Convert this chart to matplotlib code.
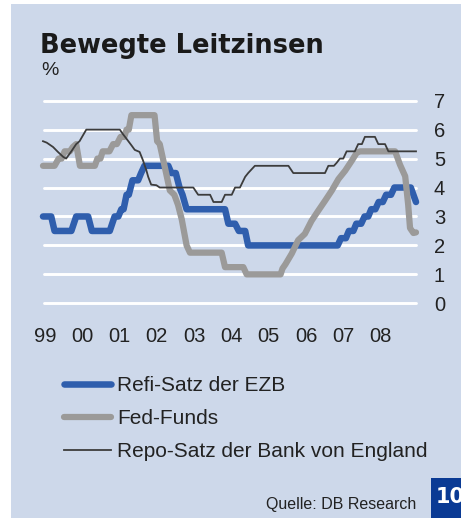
import numpy as np
import matplotlib
matplotlib.use("Agg")
import matplotlib.pyplot as plt
from matplotlib.patches import Rectangle

plt.rcParams['font.family'] = ['Liberation Sans', 'DejaVu Sans']

## data (x in decimal years)
ezb_t = [1999.00, 1999.22, 1999.31, 1999.76, 1999.89, 2000.21, 2000.31, 2000.79, 2000.92,
         2001.02, 2001.10, 2001.16, 2001.24, 2001.30, 2001.40, 2001.55, 2001.63, 2001.72,
         2002.36, 2002.44, 2002.56, 2002.66, 2002.74, 2002.85, 2003.88, 2003.97, 2004.15,
         2004.25, 2004.42, 2004.50, 2006.90, 2006.99, 2007.12, 2007.20, 2007.32, 2007.40,
         2007.53, 2007.62, 2007.72, 2007.80, 2007.91, 2008.00, 2008.11, 2008.20, 2008.33,
         2008.42, 2008.86, 2008.93, 2009.00]
ezb_v = [3.0, 3.0, 2.5, 2.5, 3.0, 3.0, 2.5, 2.5, 3.0,
         3.0, 3.25, 3.25, 3.75, 3.75, 4.25, 4.25, 4.5, 4.75,
         4.75, 4.5, 4.5, 4.0, 3.75, 3.25, 3.25, 2.75, 2.75,
         2.5, 2.5, 2.0, 2.0, 2.25, 2.25, 2.5, 2.5, 2.75,
         2.75, 3.0, 3.0, 3.25, 3.25, 3.5, 3.5, 3.75, 3.75,
         4.0, 4.0, 3.75, 3.5]

fed_t = [1999.00, 1999.31, 1999.42, 1999.50, 1999.58, 1999.72, 1999.80, 1999.89, 1999.99,
         2000.39, 2000.46, 2000.54, 2000.60, 2000.78, 2000.88, 2000.98, 2001.08, 2001.18,
         2001.24, 2001.30, 2001.37, 2001.99, 2002.06, 2002.13, 2002.30, 2002.40, 2002.52,
         2002.62, 2002.72, 2002.85, 2002.94, 2003.79, 2003.88, 2004.37, 2004.46, 2005.37,
         2005.42, 2005.50, 2005.67, 2005.84, 2006.02, 2006.20, 2006.38, 2006.56, 2006.74,
         2006.92, 2007.10, 2007.28, 2007.41, 2007.50, 2008.44, 2008.57, 2008.71, 2008.79,
         2008.84, 2008.93, 2009.00]
fed_v = [4.75, 4.75, 5.0, 5.0, 5.25, 5.25, 5.4, 5.5, 4.75,
         4.75, 5.0, 5.0, 5.25, 5.25, 5.5, 5.5, 5.75, 5.75,
         6.0, 6.0, 6.5, 6.5, 5.6, 5.5, 4.5, 3.9, 3.75,
         3.4, 2.9, 2.0, 1.75, 1.75, 1.25, 1.25, 1.0, 1.0,
         1.2, 1.35, 1.72, 2.18, 2.4, 2.85, 3.2, 3.54, 3.89,
         4.29, 4.58, 4.93, 5.2, 5.25, 5.25, 4.79, 4.39, 3.41,
         2.6, 2.43, 2.45]

boe_t = [1999.00, 1999.10, 1999.27, 1999.40, 1999.54, 1999.62, 1999.76, 1999.89, 1999.98,
         2000.07, 2000.16, 2001.06, 2001.14, 2001.23, 2001.37, 2001.46, 2001.59, 2001.68,
         2001.77, 2001.82, 2001.90, 2002.04, 2002.13, 2003.03, 2003.16, 2003.48, 2003.57,
         2003.79, 2003.88, 2004.06, 2004.15, 2004.28, 2004.42, 2004.50, 2004.68, 2005.58,
         2005.71, 2006.56, 2006.65, 2006.80, 2006.87, 2006.96, 2007.05, 2007.14, 2007.36,
         2007.45, 2007.55, 2007.63, 2007.90, 2007.99, 2008.17, 2008.26, 2009.00]
boe_v = [5.6, 5.55, 5.4, 5.23, 5.06, 5.0, 5.25, 5.5, 5.6,
         5.8, 6.0, 6.0, 5.85, 5.7, 5.46, 5.3, 5.23, 4.94,
         4.6, 4.37, 4.1, 4.08, 4.0, 4.0, 3.75, 3.75, 3.5,
         3.5, 3.75, 3.75, 4.0, 4.0, 4.37, 4.5, 4.75, 4.75,
         4.5, 4.5, 4.75, 4.75, 4.85, 5.0, 5.0, 5.25, 5.25,
         5.5, 5.5, 5.75, 5.75, 5.5, 5.5, 5.25, 5.25]

year_labels = ["99", "00", "01", "02", "03", "04", "05", "06", "07", "08"]
y_ticks = [0, 1, 2, 3, 4, 5, 6, 7]
series_names = ["Refi-Satz der EZB", "Fed-Funds", "Repo-Satz der Bank von England"]

## colours
panel_col = "#CDD8EA"
blue = "#2F5EAD"
grey = "#9B9A99"
dark = "#3C3C3C"

W, H = 461, 518
fig = plt.figure(figsize=(W / 100, H / 100), dpi=100)
fig.patch.set_facecolor("white")
fig.add_artist(Rectangle((11 / W, 0), 450 / W, 514 / H, transform=fig.transFigure,
                         facecolor=panel_col, edgecolor="none", zorder=0))

ax = fig.add_axes([40 / W, 1 - 312 / H, 380 / W, 220 / H])
ax.set_facecolor("none")
ax.set_xlim(1999 + (40 - 43) / 37.3, 1999 + (420 - 43) / 37.3)
ax.set_ylim(-0.3, 7.3)

gl = ax.hlines(y_ticks, 1999.02, 2009.0, colors="white", linewidth=2.1, zorder=1)
gl.set_capstyle("round")

l1, = ax.plot(ezb_t, ezb_v, color=blue, lw=4.7, solid_joinstyle="round",
              solid_capstyle="round", zorder=3, clip_on=False)
l2, = ax.plot(fed_t, fed_v, color=grey, lw=4.5, solid_joinstyle="round",
              solid_capstyle="round", zorder=4, clip_on=False)
l3, = ax.plot(boe_t, boe_v, color=dark, lw=1.3, zorder=5, clip_on=False)

for s in ax.spines.values():
    s.set_visible(False)
ax.yaxis.tick_right()
ax.set_yticks(y_ticks)
ax.set_yticklabels([str(v) for v in y_ticks])
ax.set_xticks([1999.05 + i for i in range(len(year_labels))])
ax.set_xticklabels(year_labels)
ax.tick_params(axis="y", length=0, pad=10, labelsize=14.5, labelcolor="#222222")
ax.tick_params(axis="x", length=0, pad=10.5, labelsize=14.5, labelcolor="#222222")

leg = ax.legend([l1, l2, l3], series_names, loc="upper left",
                bbox_to_anchor=(63.5 / W, 1 - 376 / H), bbox_transform=fig.transFigure,
                frameon=False, fontsize=15, handlelength=2.26, handletextpad=0.3,
                labelspacing=0.67, borderpad=0, borderaxespad=0)
for t in leg.get_texts():
    t.set_color("#222222")

fig.text(40 / W, 1 - 52.7 / H, "Bewegte Leitzinsen", family="DejaVu Sans",
         fontweight="bold", fontsize=18.5, color="#1a1a1a", va="baseline")
fig.text(41 / W, 1 - 75 / H, "%", fontsize=14, color="#222222", va="baseline")
fig.text(416 / W, 1 - 504 / H, "Quelle: DB Research", fontsize=11.5,
         color="#222222", ha="right", va="center")

fig.add_artist(Rectangle((431 / W, 0), 30 / W, 40 / H, transform=fig.transFigure,
                         facecolor="#0A3A94", edgecolor="none", zorder=2))
fig.text(436 / W, 1 - 497 / H, "10", family="DejaVu Sans", fontweight="bold",
         fontsize=15, color="white", va="center", zorder=3)

fig.savefig("out.png", dpi=100)
